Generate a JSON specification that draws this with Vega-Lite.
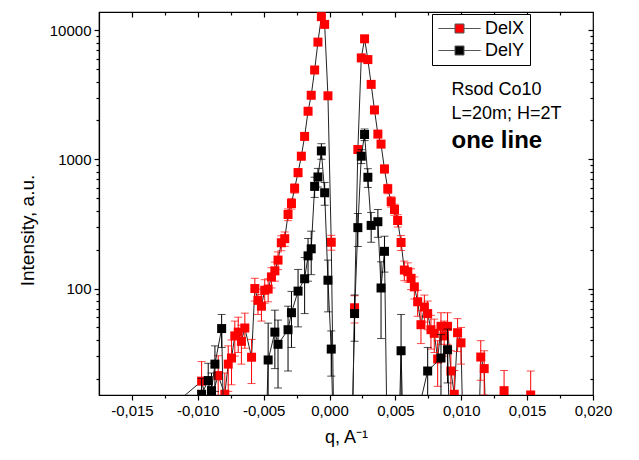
{
  "$schema": "https://vega.github.io/schema/vega-lite/v6.json",
  "width": 494,
  "height": 383,
  "autosize": "none",
  "padding": {"left": 99, "top": 12, "right": 46, "bottom": 65},
  "background": "white",
  "config": {
    "view": {"stroke": "black", "strokeWidth": 1.2},
    "font": "Liberation Sans",
    "axis": {"domainColor": "black", "tickColor": "black", "labelColor": "black", "titleColor": "black", "labelFont": "Liberation Sans", "titleFont": "Liberation Sans", "grid": false, "labelFontSize": 15, "titleFontSize": 18, "titleFontWeight": "normal", "domainWidth": 1.2, "tickWidth": 1.2}
  },
  "datasets": {
    "pts": [
      {"q": -0.01148, "I": 13.5, "e": 0, "s": "DelX"},
      {"q": -0.00971, "I": 19.2, "e": 8, "s": "DelX"},
      {"q": -0.00921, "I": 12, "e": 0, "s": "DelX"},
      {"q": -0.00845, "I": 21.2, "e": 9, "s": "DelX"},
      {"q": -0.00795, "I": 15.2, "e": 7, "s": "DelX"},
      {"q": -0.00769, "I": 26, "e": 10, "s": "DelX"},
      {"q": -0.00744, "I": 29, "e": 11, "s": "DelX"},
      {"q": -0.00719, "I": 43, "e": 13, "s": "DelX"},
      {"q": -0.00693, "I": 46, "e": 14, "s": "DelX"},
      {"q": -0.00669, "I": 39, "e": 13, "s": "DelX"},
      {"q": -0.00643, "I": 49.5, "e": 15, "s": "DelX"},
      {"q": -0.00592, "I": 29.4, "e": 11, "s": "DelX"},
      {"q": -0.00567, "I": 100, "e": 20, "s": "DelX"},
      {"q": -0.00543, "I": 81, "e": 18, "s": "DelX"},
      {"q": -0.00517, "I": 73, "e": 17, "s": "DelX"},
      {"q": -0.00492, "I": 97, "e": 20, "s": "DelX"},
      {"q": -0.00466, "I": 99, "e": 20, "s": "DelX"},
      {"q": -0.00441, "I": 123, "e": 22, "s": "DelX"},
      {"q": -0.00415, "I": 137, "e": 23, "s": "DelX"},
      {"q": -0.00391, "I": 166, "e": 26, "s": "DelX"},
      {"q": -0.00366, "I": 226, "e": 30, "s": "DelX"},
      {"q": -0.0034, "I": 243, "e": 31, "s": "DelX"},
      {"q": -0.00315, "I": 374, "e": 39, "s": "DelX"},
      {"q": -0.00289, "I": 455, "e": 43, "s": "DelX"},
      {"q": -0.00265, "I": 596, "e": 49, "s": "DelX"},
      {"q": -0.00239, "I": 789, "e": 56, "s": "DelX"},
      {"q": -0.00214, "I": 1057, "e": 65, "s": "DelX"},
      {"q": -0.00189, "I": 1504, "e": 78, "s": "DelX"},
      {"q": -0.00163, "I": 2355, "e": 97, "s": "DelX"},
      {"q": -0.00139, "I": 3130, "e": 112, "s": "DelX"},
      {"q": -0.00113, "I": 4910, "e": 140, "s": "DelX"},
      {"q": -0.00088, "I": 8070, "e": 180, "s": "DelX"},
      {"q": -0.00062, "I": 12700, "e": 225, "s": "DelX"},
      {"q": -0.00037, "I": 11070, "e": 210, "s": "DelX"},
      {"q": -0.00012, "I": 3100, "e": 111, "s": "DelX"},
      {"q": 0.00013, "I": 228, "e": 30, "s": "DelX"},
      {"q": 0.00038, "I": 3, "e": 0, "s": "DelX"},
      {"q": 0.00164, "I": 3, "e": 0, "s": "DelX"},
      {"q": 0.0019, "I": 71, "e": 17, "s": "DelX"},
      {"q": 0.00215, "I": 1190, "e": 69, "s": "DelX"},
      {"q": 0.00241, "I": 6090, "e": 156, "s": "DelX"},
      {"q": 0.00266, "I": 8560, "e": 185, "s": "DelX"},
      {"q": 0.00291, "I": 5910, "e": 154, "s": "DelX"},
      {"q": 0.00316, "I": 3800, "e": 123, "s": "DelX"},
      {"q": 0.00341, "I": 2410, "e": 98, "s": "DelX"},
      {"q": 0.00367, "I": 1567, "e": 79, "s": "DelX"},
      {"q": 0.00391, "I": 1311, "e": 72, "s": "DelX"},
      {"q": 0.00417, "I": 842, "e": 58, "s": "DelX"},
      {"q": 0.00442, "I": 591, "e": 49, "s": "DelX"},
      {"q": 0.00468, "I": 470, "e": 43, "s": "DelX"},
      {"q": 0.00493, "I": 409, "e": 40, "s": "DelX"},
      {"q": 0.00517, "I": 336, "e": 37, "s": "DelX"},
      {"q": 0.00543, "I": 227, "e": 30, "s": "DelX"},
      {"q": 0.00568, "I": 139, "e": 24, "s": "DelX"},
      {"q": 0.00594, "I": 135, "e": 23, "s": "DelX"},
      {"q": 0.00619, "I": 120, "e": 22, "s": "DelX"},
      {"q": 0.00644, "I": 103, "e": 20, "s": "DelX"},
      {"q": 0.00669, "I": 79, "e": 18, "s": "DelX"},
      {"q": 0.00694, "I": 52.5, "e": 15, "s": "DelX"},
      {"q": 0.0072, "I": 72, "e": 17, "s": "DelX"},
      {"q": 0.00745, "I": 64, "e": 16, "s": "DelX"},
      {"q": 0.0077, "I": 48, "e": 14, "s": "DelX"},
      {"q": 0.00795, "I": 45, "e": 13, "s": "DelX"},
      {"q": 0.00821, "I": 28.5, "e": 11, "s": "DelX"},
      {"q": 0.00846, "I": 51, "e": 14, "s": "DelX"},
      {"q": 0.0087, "I": 43, "e": 13, "s": "DelX"},
      {"q": 0.00896, "I": 51, "e": 14, "s": "DelX"},
      {"q": 0.00921, "I": 23, "e": 10, "s": "DelX"},
      {"q": 0.00947, "I": 15.2, "e": 8, "s": "DelX"},
      {"q": 0.00972, "I": 45.5, "e": 13, "s": "DelX"},
      {"q": 0.00998, "I": 38, "e": 12, "s": "DelX"},
      {"q": 0.01022, "I": 3, "e": 0, "s": "DelX"},
      {"q": 0.01123, "I": 3, "e": 0, "s": "DelX"},
      {"q": 0.01148, "I": 29.5, "e": 10, "s": "DelX"},
      {"q": 0.01174, "I": 24, "e": 9, "s": "DelX"},
      {"q": 0.01199, "I": 3, "e": 0, "s": "DelX"},
      {"q": 0.013, "I": 3, "e": 0, "s": "DelX"},
      {"q": 0.01325, "I": 16.2, "e": 7, "s": "DelX"},
      {"q": 0.01351, "I": 3, "e": 0, "s": "DelX"},
      {"q": 0.01502, "I": 3, "e": 0, "s": "DelX"},
      {"q": 0.01527, "I": 15, "e": 8, "s": "DelX"},
      {"q": 0.01552, "I": 3, "e": 0, "s": "DelX"},
      {"q": -0.00971, "I": 15.2, "e": 5, "s": "DelY"},
      {"q": -0.00921, "I": 19.4, "e": 7, "s": "DelY"},
      {"q": -0.00896, "I": 16.2, "e": 6, "s": "DelY"},
      {"q": -0.0087, "I": 26, "e": 10, "s": "DelY"},
      {"q": -0.00819, "I": 49, "e": 14, "s": "DelY"},
      {"q": -0.00795, "I": 3, "e": 0, "s": "DelY"},
      {"q": -0.00643, "I": 3, "e": 0, "s": "DelY"},
      {"q": -0.00618, "I": 13.8, "e": 0, "s": "DelY"},
      {"q": -0.00592, "I": 3, "e": 0, "s": "DelY"},
      {"q": -0.00492, "I": 3, "e": 0, "s": "DelY"},
      {"q": -0.00466, "I": 28, "e": 26, "s": "DelY"},
      {"q": -0.00415, "I": 46, "e": 22, "s": "DelY"},
      {"q": -0.00391, "I": 37, "e": 20, "s": "DelY"},
      {"q": -0.00315, "I": 48, "e": 25, "s": "DelY"},
      {"q": -0.00289, "I": 65, "e": 30, "s": "DelY"},
      {"q": -0.00239, "I": 95.5, "e": 45, "s": "DelY"},
      {"q": -0.00189, "I": 119, "e": 55, "s": "DelY"},
      {"q": -0.00163, "I": 179, "e": 65, "s": "DelY"},
      {"q": -0.00139, "I": 203, "e": 75, "s": "DelY"},
      {"q": -0.00113, "I": 617, "e": 110, "s": "DelY"},
      {"q": -0.00088, "I": 730, "e": 120, "s": "DelY"},
      {"q": -0.00062, "I": 1161, "e": 160, "s": "DelY"},
      {"q": -0.00037, "I": 551, "e": 110, "s": "DelY"},
      {"q": -0.00012, "I": 116, "e": 50, "s": "DelY"},
      {"q": 0.00013, "I": 34, "e": 13, "s": "DelY"},
      {"q": 0.00038, "I": 3, "e": 0, "s": "DelY"},
      {"q": 0.00164, "I": 3, "e": 0, "s": "DelY"},
      {"q": 0.0019, "I": 64, "e": 25, "s": "DelY"},
      {"q": 0.00215, "I": 296, "e": 85, "s": "DelY"},
      {"q": 0.00241, "I": 1057, "e": 130, "s": "DelY"},
      {"q": 0.00266, "I": 1556, "e": 160, "s": "DelY"},
      {"q": 0.00291, "I": 726, "e": 120, "s": "DelY"},
      {"q": 0.00316, "I": 308, "e": 80, "s": "DelY"},
      {"q": 0.00367, "I": 329, "e": 80, "s": "DelY"},
      {"q": 0.00391, "I": 101, "e": 60, "s": "DelY"},
      {"q": 0.00417, "I": 194, "e": 60, "s": "DelY"},
      {"q": 0.00442, "I": 3, "e": 0, "s": "DelY"},
      {"q": 0.00517, "I": 3, "e": 0, "s": "DelY"},
      {"q": 0.00543, "I": 33, "e": 30, "s": "DelY"},
      {"q": 0.00568, "I": 3, "e": 0, "s": "DelY"},
      {"q": 0.00694, "I": 13.8, "e": 0, "s": "DelY"},
      {"q": 0.00745, "I": 23, "e": 12, "s": "DelY"},
      {"q": 0.00846, "I": 29, "e": 15, "s": "DelY"},
      {"q": 0.00896, "I": 33.6, "e": 15, "s": "DelY"},
      {"q": 0.00921, "I": 3, "e": 0, "s": "DelY"}
    ],
    "notes": [
      {"q": 0.00926, "I": 3120, "label": "Rsod Co10", "w": "normal"},
      {"q": 0.00926, "I": 2065, "label": "L=20m; H=2T", "w": "normal"},
      {"q": 0.00926, "I": 1233, "label": "one line", "w": "bold"}
    ]
  },
  "layer": [
    {
      "data": {"name": "pts"},
      "transform": [{"filter": "datum.s == 'DelX'"}],
      "mark": {"type": "line", "color": "#222222", "strokeWidth": 1, "clip": true},
      "encoding": {
        "x": {"field": "q", "type": "quantitative", "scale": {"domain": [-0.0175, 0.02], "nice": false, "zero": false},
          "axis": {"orient": "bottom", "values": [-0.015, -0.01, -0.005, 0, 0.005, 0.01, 0.015, 0.02], "tickSize": 5, "labelPadding": 3, "labelFlush": false, "labelExpr": "replace(replace(format(datum.value, '.3f'), '.', ','), '\u2212', '-')", "title": "q, A\u207b\u00b9", "titlePadding": 10}},
        "y": {"field": "I", "type": "quantitative", "scale": {"type": "log", "domain": [15, 13800], "nice": false},
          "axis": {"orient": "left", "values": [100, 1000, 10000], "format": "d", "tickSize": 5, "labelPadding": 3, "title": "Intensity, a.u.", "titleFontSize": 19, "titlePadding": 12, "titleY": 218}}
      }
    },
    {
      "data": {"name": "pts"},
      "transform": [{"filter": "datum.s == 'DelX' && datum.e > 0"}],
      "mark": {"type": "errorbar", "color": "#ff0000", "ticks": {"size": 8}, "thickness": 1, "clip": true},
      "encoding": {
        "x": {"field": "q", "type": "quantitative", "axis": {"orient": "bottom", "values": [-0.0125, -0.0075, -0.0025, 0.0025, 0.0075, 0.0125, 0.0175], "tickSize": 3, "labels": false, "domain": false, "title": null}},
        "y": {"field": "I", "type": "quantitative", "axis": {"orient": "left", "values": [20, 30, 40, 50, 60, 70, 80, 90, 200, 300, 400, 500, 600, 700, 800, 900, 2000, 3000, 4000, 5000, 6000, 7000, 8000, 9000], "tickSize": 3, "labels": false, "domain": false, "title": null}},
        "yError": {"field": "e"}
      }
    },
    {
      "data": {"name": "pts"},
      "transform": [{"filter": "datum.s == 'DelX'"}],
      "mark": {"type": "point", "shape": "square", "filled": true, "size": 81, "opacity": 1, "clip": true},
      "encoding": {
        "x": {"field": "q", "type": "quantitative", "axis": {"orient": "top", "values": [-0.015, -0.01, -0.005, 0, 0.005, 0.01, 0.015], "tickSize": -5, "labels": false, "domain": false, "title": null}},
        "y": {"field": "I", "type": "quantitative", "axis": {"orient": "right", "values": [100, 1000, 10000], "tickSize": -5, "labels": false, "domain": false, "title": null}},
        "color": {"field": "s", "type": "nominal", "scale": {"domain": ["DelX", "DelY"], "range": ["#ff0000", "#000000"]},
          "legend": {"orient": "none", "legendX": 333, "legendY": 2, "title": null, "strokeColor": "black", "fillColor": "white", "padding": 5, "symbolType": "M-2.35,0H-0.5M0.5,0H2.35M-0.5,-0.5H0.5V0.5H-0.5Z", "symbolSize": 324, "symbolStrokeColor": "#555555", "symbolStrokeWidth": 1, "symbolOffset": 13, "labelOffset": 16, "labelFontSize": 18, "labelFont": "Liberation Sans", "labelColor": "black", "rowPadding": 3}}
      }
    },
    {
      "data": {"name": "pts"},
      "transform": [{"filter": "datum.s == 'DelY'"}],
      "mark": {"type": "line", "color": "#222222", "strokeWidth": 1, "clip": true},
      "encoding": {
        "x": {"field": "q", "type": "quantitative", "axis": {"orient": "top", "values": [-0.0125, -0.0075, -0.0025, 0.0025, 0.0075, 0.0125, 0.0175], "tickSize": -3, "labels": false, "domain": false, "title": null}},
        "y": {"field": "I", "type": "quantitative", "axis": {"orient": "right", "values": [20, 30, 40, 50, 60, 70, 80, 90, 200, 300, 400, 500, 600, 700, 800, 900, 2000, 3000, 4000, 5000, 6000, 7000, 8000, 9000], "tickSize": -3, "labels": false, "domain": false, "title": null}}
      }
    },
    {
      "data": {"name": "pts"},
      "transform": [{"filter": "datum.s == 'DelY' && datum.e > 0"}],
      "mark": {"type": "errorbar", "color": "#000000", "ticks": {"size": 8}, "thickness": 1, "clip": true},
      "encoding": {
        "x": {"field": "q", "type": "quantitative", "axis": null},
        "y": {"field": "I", "type": "quantitative", "axis": null},
        "yError": {"field": "e"}
      }
    },
    {
      "data": {"name": "pts"},
      "transform": [{"filter": "datum.s == 'DelY'"}],
      "mark": {"type": "point", "shape": "square", "filled": true, "size": 81, "opacity": 1, "clip": true},
      "encoding": {
        "x": {"field": "q", "type": "quantitative", "axis": null},
        "y": {"field": "I", "type": "quantitative", "axis": null},
        "color": {"field": "s", "type": "nominal", "scale": {"domain": ["DelX", "DelY"], "range": ["#ff0000", "#000000"]}}
      }
    },
    {
      "data": {"name": "notes"},
      "transform": [{"filter": "datum.w == 'normal'"}],
      "mark": {"type": "text", "align": "left", "baseline": "alphabetic", "fontSize": 18, "font": "Liberation Sans", "color": "black"},
      "encoding": {
        "x": {"field": "q", "type": "quantitative", "axis": null},
        "y": {"field": "I", "type": "quantitative", "axis": null},
        "text": {"field": "label"}
      }
    },
    {
      "data": {"name": "notes"},
      "transform": [{"filter": "datum.w == 'bold'"}],
      "mark": {"type": "text", "align": "left", "baseline": "alphabetic", "fontSize": 24, "fontWeight": "bold", "font": "Liberation Sans", "color": "black"},
      "encoding": {
        "x": {"field": "q", "type": "quantitative", "axis": null},
        "y": {"field": "I", "type": "quantitative", "axis": null},
        "text": {"field": "label"}
      }
    }
  ],
  "resolve": {"axis": {"x": "independent", "y": "independent"}}
}
